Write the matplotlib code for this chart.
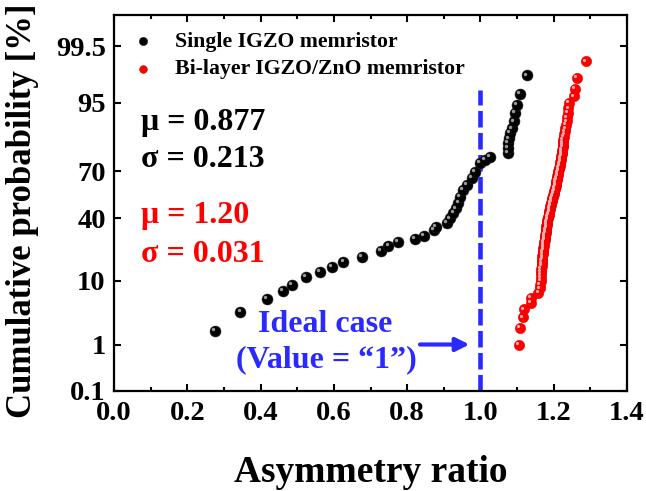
import matplotlib
matplotlib.use("Agg")
import matplotlib.pyplot as plt
import matplotlib.transforms as mtransforms
import numpy as np
from statistics import NormalDist

# Single IGZO memristor: asymmetry ratio and cumulative probability [%]
single_x = [0.276, 0.345, 0.417, 0.460, 0.485, 0.524, 0.562, 0.594, 0.626, 0.676,
            0.728, 0.749, 0.775, 0.822, 0.846, 0.872, 0.878, 0.908, 0.917, 0.926,
            0.933, 0.940, 0.944, 0.953, 0.963, 0.976, 0.985, 0.999, 1.013, 1.026,
            1.074, 1.075, 1.076, 1.078, 1.081, 1.085, 1.092, 1.094, 1.099, 1.108,
            1.126]
single_p = [1.8, 3.7, 5.7, 7.4, 9.0, 11.1, 12.9, 14.7, 16.6, 18.6,
            21.7, 23.9, 26.0, 27.7, 29.5, 32.9, 34.8, 37.0, 40.0, 43.3,
            46.5, 50.0, 54.0, 58.5, 61.6, 65.8, 69.6, 74.3, 76.1, 77.6,
            79.3, 81.6, 83.7, 85.6, 87.4, 89.0, 91.0, 93.0, 94.6, 96.3,
            98.2]

# Bi-layer IGZO/ZnO memristor
bilayer_x = [1.105, 1.108, 1.115, 1.119, 1.138, 1.138, 1.158, 1.162, 1.163, 1.164,
             1.164, 1.165, 1.166, 1.166, 1.167, 1.168, 1.168, 1.169, 1.169, 1.170,
             1.171, 1.172, 1.172, 1.173, 1.174, 1.174, 1.175, 1.176, 1.177, 1.177,
             1.178, 1.178, 1.179, 1.180, 1.180, 1.181, 1.181, 1.182, 1.183, 1.184,
             1.185, 1.186, 1.187, 1.188, 1.188, 1.189, 1.190, 1.191, 1.192, 1.193,
             1.194, 1.195, 1.196, 1.197, 1.198, 1.200, 1.201, 1.202, 1.203, 1.204,
             1.205, 1.206, 1.207, 1.207, 1.208, 1.209, 1.210, 1.211, 1.212, 1.213,
             1.214, 1.215, 1.216, 1.217, 1.218, 1.219, 1.220, 1.221, 1.222, 1.222,
             1.223, 1.224, 1.225, 1.225, 1.226, 1.227, 1.229, 1.230, 1.232, 1.233,
             1.235, 1.236, 1.238, 1.240, 1.242, 1.255, 1.258, 1.263, 1.288]
bilayer_p = [1, 2, 3, 4, 5, 6, 7, 8, 9, 10,
             11, 12, 13, 14, 15, 16, 17, 18, 19, 20,
             21, 22, 23, 24, 25, 26, 27, 28, 29, 30,
             31, 32, 33, 34, 35, 36, 37, 38, 39, 40,
             41, 42, 43, 44, 45, 46, 47, 48, 49, 50,
             51, 52, 53, 54, 55, 56, 57, 58, 59, 60,
             61, 62, 63, 64, 65, 66, 67, 68, 69, 70,
             71, 72, 73, 74, 75, 76, 77, 78, 79, 80,
             81, 82, 83, 84, 85, 86, 87, 88, 89, 90,
             91, 92, 93, 94, 95, 96, 97, 98, 99]

ideal_value = 1.0
ideal_top = 96.8
y_ticks = [0.1, 1, 10, 40, 70, 95, 99.5]
y_ticklabels = ["0.1", "1", "10", "40", "70", "95", "99.5"]

nd = NormalDist()


def _fwd(p):
    p = np.clip(np.asarray(p, dtype=float), 1e-6, 100 - 1e-6)
    return np.vectorize(lambda v: nd.inv_cdf(v / 100.0))(p) if p.size else p


def _inv(z):
    z = np.asarray(z, dtype=float)
    return np.vectorize(lambda v: nd.cdf(v) * 100.0)(z) if z.size else z


plt.rcParams['font.family'] = ['Liberation Serif', 'DejaVu Serif']
plt.rcParams['font.weight'] = 'bold'

fig = plt.figure(figsize=(6.46, 4.91), dpi=100)
ax = fig.add_axes([0.1765, 0.2037, 0.7941, 0.7658])
ax.set_yscale('function', functions=(_fwd, _inv))

hl = mtransforms.offset_copy(ax.transData, fig=fig, x=-1.3, y=1.3, units='points')

s1 = ax.scatter(single_x, single_p, s=62, color='black', edgecolors='#202020',
                linewidths=0.4, zorder=3)
ax.scatter(single_x, single_p, s=6, color='#9a9a9a', linewidths=0,
           transform=hl, zorder=4)
s2 = ax.scatter(bilayer_x, bilayer_p, s=55, color='#ff0000', edgecolors='#e00000',
                linewidths=0.4, zorder=3)
ax.scatter(bilayer_x, bilayer_p, s=5, color='#ffb0b0', linewidths=0,
           transform=hl, zorder=4)

blue = '#2a2aff'
ax.plot([ideal_value, ideal_value], [0.1, ideal_top], color=blue, lw=3.3,
        dashes=(3.6, 1.2), zorder=2)

ax.set_xlim(0.0, 1.4)
ax.set_ylim(0.1, 99.9)
ax.set_xticks(np.arange(0, 1.41, 0.2))
ax.set_xticks(np.arange(0.1, 1.4, 0.2), minor=True)
ax.set_xticklabels([f"{v:.1f}" for v in np.arange(0, 1.41, 0.2)])
ax.set_yticks(y_ticks)
ax.set_yticklabels(y_ticklabels)
ax.yaxis.set_minor_locator(matplotlib.ticker.NullLocator())

ax.tick_params(which='both', direction='in', top=True, right=True,
               labelsize=20.5, width=1.5)
ax.tick_params(which='major', length=5)
ax.tick_params(which='minor', length=3)
ax.tick_params(axis='x', pad=7)
ax.tick_params(axis='y', pad=6)
for sp in ax.spines.values():
    sp.set_linewidth(1.6)

# axis titles
fig.text(371 / 646, 1 - 473 / 491, 'Asymmetry ratio', fontsize=27,
         fontweight='bold', ha='center', va='center')
fig.text(23 / 646, 1 - 211 / 491, 'Cumulative probability [%]', fontsize=25,
         fontweight='bold', ha='center', va='center', rotation=90)

leg = ax.legend([s1, s2], ['Single IGZO memristor', 'Bi-layer IGZO/ZnO memristor'],
                loc='upper left', bbox_to_anchor=(0.0, 1.0), frameon=False,
                fontsize=15.7, handlelength=1.2, handletextpad=0.84,
                markerscale=0.75, borderaxespad=0.35, labelspacing=0.35)
for t in leg.get_texts():
    t.set_fontweight('bold')

ax.text(0.052, 0.694, 'μ = 0.877', transform=ax.transAxes, fontsize=23,
        fontweight='bold', color='black', va='baseline')
ax.text(0.052, 0.596, 'σ = 0.213', transform=ax.transAxes, fontsize=23,
        fontweight='bold', color='black', va='baseline')
ax.text(0.052, 0.447, 'μ = 1.20', transform=ax.transAxes, fontsize=23,
        fontweight='bold', color='#ff0000', va='baseline')
ax.text(0.052, 0.343, 'σ = 0.031', transform=ax.transAxes, fontsize=23,
        fontweight='bold', color='#ff0000', va='baseline')

ax.text(0.411, 0.158, 'Ideal case', transform=ax.transAxes, fontsize=23,
        fontweight='bold', color=blue, ha='center', va='baseline')
ax.text(0.413, 0.063, '(Value = \u201c1\u201d)', transform=ax.transAxes, fontsize=23,
        fontweight='bold', color=blue, ha='center', va='baseline')
ax.annotate('', xy=(0.97, 1.0), xytext=(0.835, 1.0),
            arrowprops=dict(arrowstyle='-|>', color=blue, lw=3,
                            mutation_scale=20, shrinkA=0, shrinkB=0))

fig.savefig('out.png', dpi=100)
